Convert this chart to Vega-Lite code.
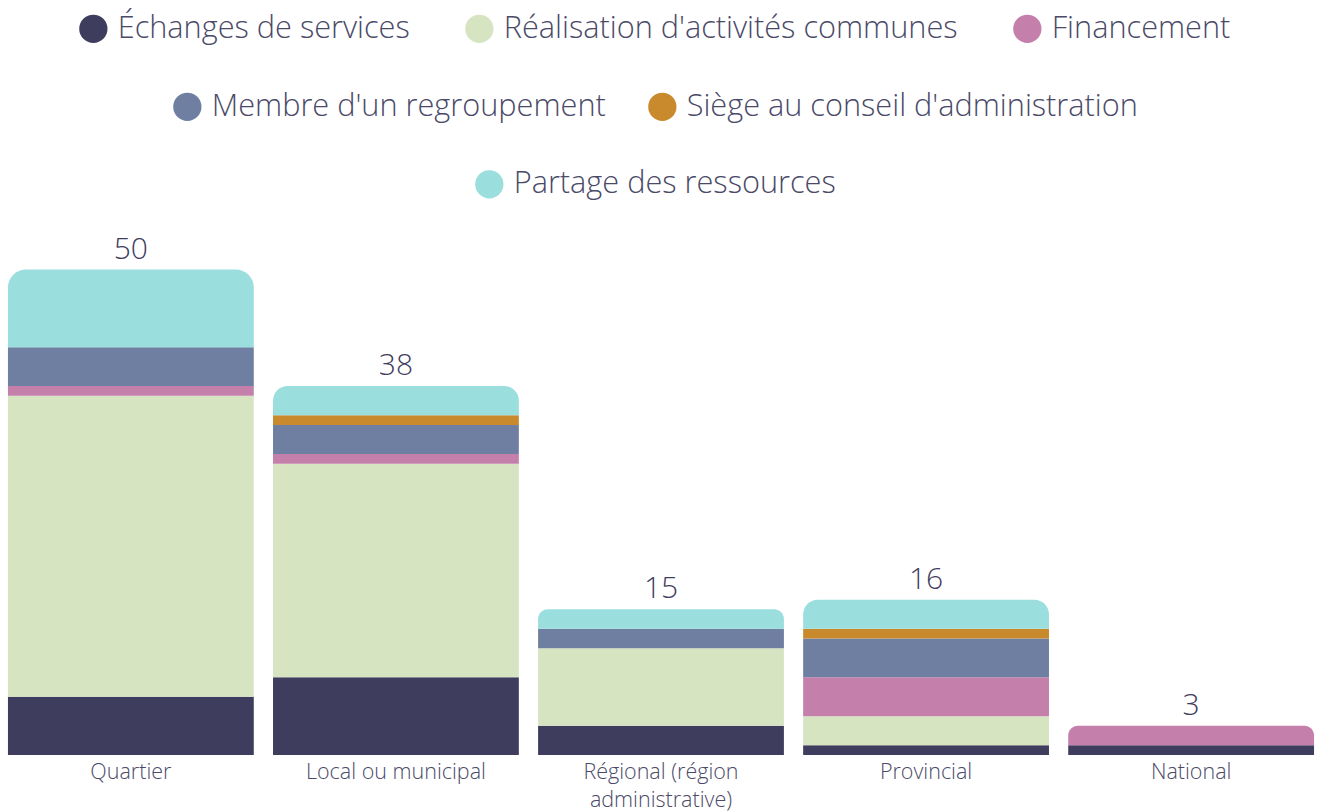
{
  "$schema": "https://vega.github.io/schema/vega-lite/v6.json",
  "width": 1322,
  "height": 534,
  "autosize": {"type": "none"},
  "padding": {"top": 221, "left": 0, "right": 0, "bottom": 57},
  "background": "white",
  "config": {"view": {"stroke": null}, "font": "Open Sans"},
  "data": {
    "values": [
      {"cat": "Quartier", "type": "Échanges de services", "order": 1, "value": 6},
      {"cat": "Quartier", "type": "Réalisation d'activités communes", "order": 2, "value": 31},
      {"cat": "Quartier", "type": "Financement", "order": 3, "value": 1},
      {"cat": "Quartier", "type": "Membre d'un regroupement", "order": 4, "value": 4},
      {"cat": "Quartier", "type": "Partage des ressources", "order": 6, "value": 8},
      {"cat": "Local ou municipal", "type": "Échanges de services", "order": 1, "value": 8},
      {"cat": "Local ou municipal", "type": "Réalisation d'activités communes", "order": 2, "value": 22},
      {"cat": "Local ou municipal", "type": "Financement", "order": 3, "value": 1},
      {"cat": "Local ou municipal", "type": "Membre d'un regroupement", "order": 4, "value": 3},
      {"cat": "Local ou municipal", "type": "Siège au conseil d'administration", "order": 5, "value": 1},
      {"cat": "Local ou municipal", "type": "Partage des ressources", "order": 6, "value": 3},
      {"cat": "Régional (région administrative)", "type": "Échanges de services", "order": 1, "value": 3},
      {"cat": "Régional (région administrative)", "type": "Réalisation d'activités communes", "order": 2, "value": 8},
      {"cat": "Régional (région administrative)", "type": "Membre d'un regroupement", "order": 4, "value": 2},
      {"cat": "Régional (région administrative)", "type": "Partage des ressources", "order": 6, "value": 2},
      {"cat": "Provincial", "type": "Échanges de services", "order": 1, "value": 1},
      {"cat": "Provincial", "type": "Réalisation d'activités communes", "order": 2, "value": 3},
      {"cat": "Provincial", "type": "Financement", "order": 3, "value": 4},
      {"cat": "Provincial", "type": "Membre d'un regroupement", "order": 4, "value": 4},
      {"cat": "Provincial", "type": "Siège au conseil d'administration", "order": 5, "value": 1},
      {"cat": "Provincial", "type": "Partage des ressources", "order": 6, "value": 3},
      {"cat": "National", "type": "Échanges de services", "order": 1, "value": 1},
      {"cat": "National", "type": "Financement", "order": 3, "value": 2}
    ]
  },
  "transform": [
    {"joinaggregate": [{"op": "sum", "field": "value", "as": "total"}], "groupby": ["cat"]},
    {"stack": "value", "groupby": ["cat"], "sort": [{"field": "order", "order": "ascending"}], "as": ["v0", "v1"]}
  ],
  "encoding": {
    "x": {
      "field": "cat",
      "type": "nominal",
      "sort": ["Quartier", "Local ou municipal", "Régional (région administrative)", "Provincial", "National"],
      "scale": {"paddingInner": 0.0726, "paddingOuter": 0.03},
      "axis": {
        "title": null,
        "labelAngle": 0,
        "domain": false,
        "ticks": false,
        "grid": false,
        "labelFontSize": 21.5,
        "labelFontWeight": 300,
        "labelColor": "#4a4a68",
        "labelPadding": 6,
        "labelLineHeight": 28,
        "labelLimit": 400,
        "labelExpr": "datum.label == 'Régional (région administrative)' ? ['Régional (région', 'administrative)'] : datum.label"
      }
    }
  },
  "layer": [
    {
      "transform": [{"filter": "datum.v1 < datum.total"}],
      "mark": {"type": "bar"},
      "encoding": {
        "y": {"field": "v0", "type": "quantitative", "scale": {"domain": [0, 55]}, "axis": null},
        "y2": {"field": "v1"},
        "color": {
          "field": "type",
          "type": "nominal",
          "scale": {
            "domain": ["Échanges de services", "Réalisation d'activités communes", "Financement", "Membre d'un regroupement", "Siège au conseil d'administration", "Partage des ressources"],
            "range": ["#3f3d5e", "#d6e4c2", "#c47fab", "#6f7fa1", "#c98a2e", "#9adede"]
          },
          "legend": {
            "orient": "none",
            "legendX": 78,
            "legendY": -208,
            "direction": "horizontal",
            "columns": 3,
            "title": null,
            "values": ["Échanges de services", "Réalisation d'activités communes", "Financement"],
            "symbolType": "circle",
            "symbolSize": 800,
            "symbolStrokeWidth": 0,
            "labelFontSize": 30.7,
            "labelFontWeight": 300,
            "labelColor": "#4a4a68",
            "labelLimit": 700,
            "labelOffset": 9,
            "columnPadding": 54
          }
        }
      }
    },
    {
      "transform": [{"filter": "datum.v1 >= datum.total"}],
      "mark": {"type": "bar", "cornerRadiusTopLeft": 18, "cornerRadiusTopRight": 18},
      "encoding": {
        "y": {"field": "v0", "type": "quantitative", "scale": {"domain": [0, 55]}, "axis": null},
        "y2": {"field": "v1"},
        "color": {"field": "type", "type": "nominal"}
      }
    },
    {
      "transform": [{"filter": "datum.v1 >= datum.total"}],
      "mark": {"type": "text", "baseline": "alphabetic", "dy": -11, "fontSize": 30, "fontWeight": 300, "color": "#3f3d5e"},
      "encoding": {
        "y": {"field": "total", "type": "quantitative", "scale": {"domain": [0, 55]}, "axis": null},
        "text": {"field": "total", "type": "quantitative"}
      }
    },
    {
      "transform": [{"filter": "false"}],
      "mark": {"type": "bar"},
      "encoding": {
        "y": {"field": "v0", "type": "quantitative", "scale": {"domain": [0, 55]}, "axis": null},
        "fill": {
          "field": "type",
          "type": "nominal",
          "scale": {
            "domain": ["Membre d'un regroupement", "Siège au conseil d'administration"],
            "range": ["#6f7fa1", "#c98a2e"]
          },
          "legend": {
            "orient": "none",
            "legendX": 172,
            "legendY": -130,
            "direction": "horizontal",
            "columns": 2,
            "title": null,
            "symbolType": "circle",
            "symbolSize": 800,
            "symbolStrokeWidth": 0,
            "labelFontSize": 30.7,
            "labelFontWeight": 300,
            "labelColor": "#4a4a68",
            "labelLimit": 700,
            "labelOffset": 9,
            "columnPadding": 41
          }
        }
      }
    },
    {
      "transform": [{"filter": "false"}],
      "mark": {"type": "point", "filled": true, "color": "#9adede", "opacity": 1},
      "encoding": {
        "y": {"field": "v0", "type": "quantitative", "scale": {"domain": [0, 55]}, "axis": null},
        "shape": {
          "field": "type",
          "type": "nominal",
          "scale": {"domain": ["Partage des ressources"], "range": ["circle"]},
          "legend": {
            "orient": "none",
            "legendX": 474,
            "legendY": -52,
            "direction": "horizontal",
            "title": null,
            "symbolType": "circle",
            "symbolSize": 800,
            "symbolStrokeWidth": 0,
            "symbolFillColor": "#9adede",
            "symbolOpacity": 1,
            "labelFontSize": 30.7,
            "labelFontWeight": 300,
            "labelColor": "#4a4a68",
            "labelLimit": 700,
            "labelOffset": 9
          }
        }
      }
    }
  ]
}
